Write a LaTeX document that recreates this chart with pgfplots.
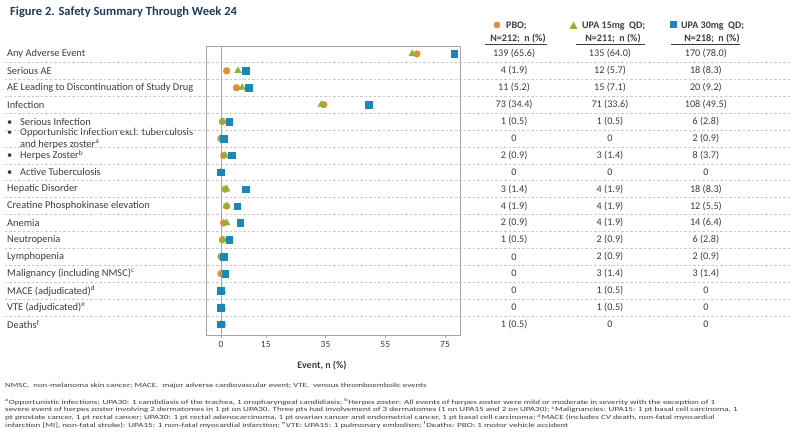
\documentclass[border=0pt]{standalone}
\usepackage{pgfplots}
\pgfplotsset{compat=1.18}
\usepackage{pgfplotstable}
\usepackage{fontspec}
\setmainfont{Carlito}

\definecolor{pbo}{HTML}{DC913C}
\definecolor{upa15}{HTML}{8CB432}
\definecolor{upa30}{HTML}{1888B8}
\definecolor{txt}{HTML}{3C3C3C}
\definecolor{ttl}{HTML}{1F3B57}
\definecolor{frame}{HTML}{A6A6A6}
\definecolor{sepgray}{HTML}{C8C8C8}

% row, percent per arm (PBO, UPA15, UPA30), text shown in the table
\pgfplotstableread[col sep=comma]{
row,p0,p1,p2,t0,t1,t2
0,65.6,64.0,78.0,139 (65.6),135 (64.0),170 (78.0)
1,1.9,5.7,8.3,4 (1.9),12 (5.7),18 (8.3)
2,5.2,7.1,9.2,11 (5.2),15 (7.1),20 (9.2)
3,34.4,33.6,49.5,73 (34.4),71 (33.6),108 (49.5)
4,0.5,0.5,2.8,1 (0.5),1 (0.5),6 (2.8)
5,0,0,0.9,0,0,2 (0.9)
6,0.9,1.4,3.7,2 (0.9),3 (1.4),8 (3.7)
7,0,0,0,0,0,0
8,1.4,1.9,8.3,3 (1.4),4 (1.9),18 (8.3)
9,1.9,1.9,5.5,4 (1.9),4 (1.9),12 (5.5)
10,0.9,1.9,6.4,2 (0.9),4 (1.9),14 (6.4)
11,0.5,0.9,2.8,1 (0.5),2 (0.9),6 (2.8)
12,0,0.9,0.9,0,2 (0.9),2 (0.9)
13,0,1.4,1.4,0,3 (1.4),3 (1.4)
14,0,0.5,0,0,1 (0.5),0
15,0,0.5,0,0,1 (0.5),0
16,0.5,0,0,1 (0.5),0,0
}\safety

\newcommand{\bul}{\makebox[13pt][l]{\textbullet}}
\newcommand{\fn}{\fontsize{6.4}{7.5}\selectfont}
\newcommand{\fnline}[1]{\scalebox{1.42}[1]{#1}}

\begin{document}
\begin{tikzpicture}
\useasboundingbox (0,0) rectangle (795pt,-444pt);

\node[anchor=base west, inner sep=0pt, text=ttl, font=\bfseries\fontsize{12.5}{14}\selectfont]
  at (10pt,-15.5pt) {Figure 2. Safety Summary Through Week 24};

\begin{axis}[
    at={(206pt,-335pt)}, anchor=south west,
    width=254pt, height=289pt, scale only axis,
    xmin=-5, xmax=80,
    ymin=-0.47, ymax=16.63, y dir=reverse,
    clip=false,
    axis line style={frame, line width=0.8pt},
    xtick={0,15,35,55,75},
    xtick pos=bottom, tick align=outside, major tick length=3pt,
    xtick style={frame},
    ytick={0,...,16},
    ytick style={draw=none},
    yticklabels={
        Any Adverse Event,
        Serious AE,
        AE Leading to Discontinuation of Study Drug,
        Infection,
        \bul Serious Infection,
        {\bul Opportunistic Infection excl. tuberculosis\\\hspace*{13pt}and herpes zoster\textsuperscript{a}},
        \bul Herpes Zoster\textsuperscript{b},
        \bul Active Tuberculosis,
        Hepatic Disorder,
        Creatine Phosphokinase elevation,
        Anemia,
        Neutropenia,
        Lymphopenia,
        Malignancy (including NMSC)\textsuperscript{c},
        MACE (adjudicated)\textsuperscript{d},
        VTE (adjudicated)\textsuperscript{e},
        Deaths\textsuperscript{f}
    },
    yticklabel style={anchor=west, xshift=-196pt, inner xsep=0pt, align=left,
        font=\fontsize{10.4}{11.8}\selectfont, text=txt},
    xticklabel style={font=\fontsize{9.5}{10}\selectfont, text=txt},
    /pgf/number format/assume math mode=true,
    xlabel={\textbf{Event, n (\%)}},
    xlabel style={font=\fontsize{10}{11}\selectfont, text=txt, xshift=-11pt, yshift=-6pt},
]
% dashed row separators across the whole figure
\pgfplotsinvokeforeach{0,...,15}{
    \draw[sepgray, dash pattern=on 2.5pt off 2pt, line width=0.6pt]
        (axis cs:-72.3,#1+0.5) -- (axis cs:190.4,#1+0.5);
}
\draw[frame, line width=0.8pt] (axis cs:0,-0.47) -- (axis cs:0,16.63);

\addplot[only marks, mark=*, mark size=3.4pt, color=pbo]
    table[x=p0, y=row] {\safety};
\addplot[only marks, mark=triangle*, mark size=3.9pt, color=upa15]
    table[x=p1, y=row] {\safety};
\addplot[only marks, mark=square*, mark size=3.3pt, color=upa30]
    table[x=p2, y=row] {\safety};

% table columns
\pgfplotsset{tabcol/.style={draw=none, nodes near coords, point meta=explicit symbolic,
    nodes near coords align=center,
    every node near coord/.style={anchor=center, inner sep=0pt,
        font=\fontsize{10.2}{11}\selectfont, text=txt}}}
\addplot[tabcol] table[x expr=98.1, y=row, meta=t0] {\safety};
\addplot[tabcol] table[x expr=130.2, y=row, meta=t1] {\safety};
\addplot[tabcol] table[x expr=162.3, y=row, meta=t2] {\safety};
\end{axis}

% column headers
\begin{scope}[every node/.style={inner sep=0pt, text=txt, font=\bfseries\fontsize{10}{11}\selectfont}]
\fill[pbo] (497pt,-25pt) circle (3.4pt);
\node[anchor=base west] at (506pt,-28.5pt) {PBO;};
\node[anchor=base] at (518pt,-41.5pt) {N=212;~ n (\%)};
\draw[txt, line width=1pt] (485pt,-44.5pt) -- (547pt,-44.5pt);

\fill[upa15] (569.5pt,-29pt) -- (577.5pt,-29pt) -- (573.5pt,-21.5pt) -- cycle;
\node[anchor=base west] at (582pt,-28.5pt) {UPA 15mg~ QD;};
\node[anchor=base] at (613pt,-41.5pt) {N=211;~ n (\%)};
\draw[txt, line width=1pt] (576pt,-44.5pt) -- (645pt,-44.5pt);

\fill[upa30] (669.5pt,-28.5pt) rectangle (676.5pt,-21.5pt);
\node[anchor=base west] at (681pt,-28.5pt) {UPA 30mg~ QD;};
\node[anchor=base] at (712pt,-41.5pt) {N=218;~ n (\%)};
\draw[txt, line width=1pt] (671pt,-44.5pt) -- (740pt,-44.5pt);
\end{scope}

% footnotes
\begin{scope}[every node/.style={anchor=base west, inner sep=0pt, text=txt, font=\fn}]
\node at (5pt,-387pt) {\scalebox{1.38}[1]{NMSC,~ non-melanoma skin cancer; MACE,~ major adverse cardiovascular event; VTE,~ venous thromboembolic events}};
\node at (5pt,-404pt) {\fnline{\textsuperscript{a}Opportunistic infections: UPA30: 1 candidiasis of the trachea, 1 oropharyngeal candidiasis; \textsuperscript{b}Herpes zoster: All events of herpes zoster were mild or moderate in severity with the exception of 1}};
\node at (5pt,-411.8pt) {\fnline{severe event of herpes zoster involving 2 dermatomes in 1 pt on UPA30. Three pts had involvement of 3 dermatomes (1 on UPA15 and 2 on UPA30); \textsuperscript{c}Malignancies: UPA15: 1 pt basal cell carcinoma, 1}};
\node at (5pt,-419.6pt) {\fnline{pt prostate cancer, 1 pt rectal cancer; UPA30: 1 pt rectal adenocarcinoma, 1 pt ovarian cancer and endometrial cancer, 1 pt basal cell carcinoma; \textsuperscript{d}MACE (includes CV death, non-fatal myocardial}};
\node at (5pt,-427.4pt) {\fnline{infarction [MI], non-fatal stroke): UPA15: 1 non-fatal myocardial infarction; \textsuperscript{e}VTE: UPA15: 1 pulmonary embolism; \textsuperscript{f}Deaths: PBO: 1 motor vehicle accident}};
\end{scope}
\end{tikzpicture}
\end{document}
